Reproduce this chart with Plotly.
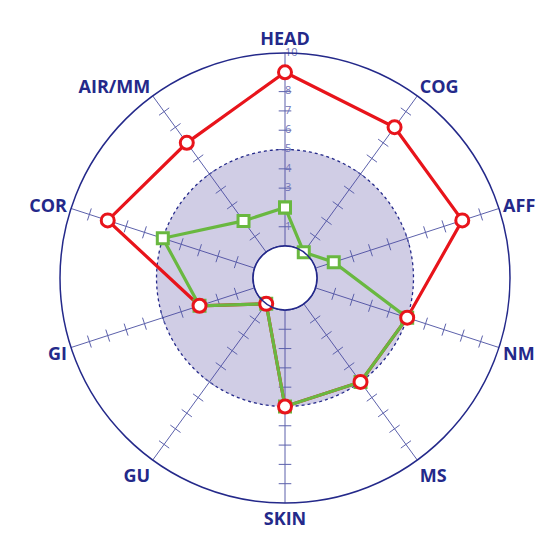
import plotly.graph_objects as go

categories = ["HEAD", "COG", "AFF", "NM", "MS", "SKIN", "GU", "GI", "COR", "AIR/MM"]
red_values = [9, 8, 8, 5, 5, 5, 0, 3, 8, 7]
green_values = [2, 0, 1, 5, 5, 5, 0, 3, 5, 2]
radial_ticks = [1, 2, 3, 4, 5, 6, 7, 8, 9, 10]
shade_limit = 5

NAVY = "#24298a"
SPOKE = "#5c61ab"
RED = "#e8141b"
GREEN = "#69b840"

step = 360 / len(categories)
angles = [i * step for i in range(len(categories))]
circle = [a * 0.5 for a in range(721)]

fig = go.Figure()

# shaded ring between hole and the limit (outer path + reversed inner path)
fig.add_trace(go.Scatterpolar(
    r=[shade_limit] * len(circle) + [0] * len(circle),
    theta=circle + circle[::-1],
    mode="lines", fill="toself",
    fillcolor="rgba(80,70,160,0.27)",
    line=dict(width=0), hoverinfo="skip"))

# dashed limit circle
fig.add_trace(go.Scatterpolar(
    r=[shade_limit] * len(circle), theta=circle, mode="lines",
    line=dict(color=NAVY, width=1.3, dash="dot"), hoverinfo="skip"))

# hole border
fig.add_trace(go.Scatterpolar(
    r=[0] * len(circle), theta=circle, mode="lines",
    line=dict(color=NAVY, width=1.5), hoverinfo="skip"))

# cross ticks on every spoke
tick_r, tick_t = [], []
for a in angles:
    for v in radial_ticks[:-1]:
        tick_r.append(v)
        tick_t.append(a)
fig.add_trace(go.Scatterpolar(
    r=tick_r, theta=tick_t, mode="markers",
    marker=dict(symbol="line-ew", size=9, angle=tick_t,
                line=dict(color=SPOKE, width=1)),
    hoverinfo="skip"))

# radial tick labels to the right of the HEAD spoke
fig.add_trace(go.Scatterpolar(
    r=radial_ticks, theta=[0] * len(radial_ticks), mode="text",
    text=[str(v) for v in radial_ticks], textposition="middle right",
    textfont=dict(family="Open Sans", size=11, color="#7075b8"),
    hoverinfo="skip"))

closed = angles + [angles[0]]

# red line first, then green on top, then red markers on top
fig.add_trace(go.Scatterpolar(
    r=red_values + [red_values[0]], theta=closed, mode="lines",
    line=dict(color=RED, width=3.2)))
fig.add_trace(go.Scatterpolar(
    r=green_values + [green_values[0]], theta=closed, mode="lines+markers",
    line=dict(color=GREEN, width=3.2),
    marker=dict(symbol="square", size=11, color="white",
                line=dict(color=GREEN, width=3))))
fig.add_trace(go.Scatterpolar(
    r=red_values, theta=angles, mode="markers",
    marker=dict(symbol="circle", size=13, color="white",
                line=dict(color=RED, width=3))))

fig.update_layout(
    width=560, height=560,
    margin=dict(l=52, r=58, t=45, b=65),
    paper_bgcolor="white",
    showlegend=False,
    polar=dict(
        bgcolor="white",
        hole=0.142,
        radialaxis=dict(
            range=[0, 10], angle=90,
            tickmode="array", tickvals=radial_ticks,
            ticks="", showgrid=False, showline=False, showticklabels=False),
        angularaxis=dict(
            direction="clockwise", rotation=90,
            tickmode="array", tickvals=angles, ticktext=categories,
            ticks="", showgrid=True, gridcolor=SPOKE, gridwidth=1,
            showline=True, linecolor=NAVY, linewidth=1.5,
            tickfont=dict(family="Open Sans", size=18, color=NAVY, weight="bold")),
    ),
)

fig.write_html("out.html")
